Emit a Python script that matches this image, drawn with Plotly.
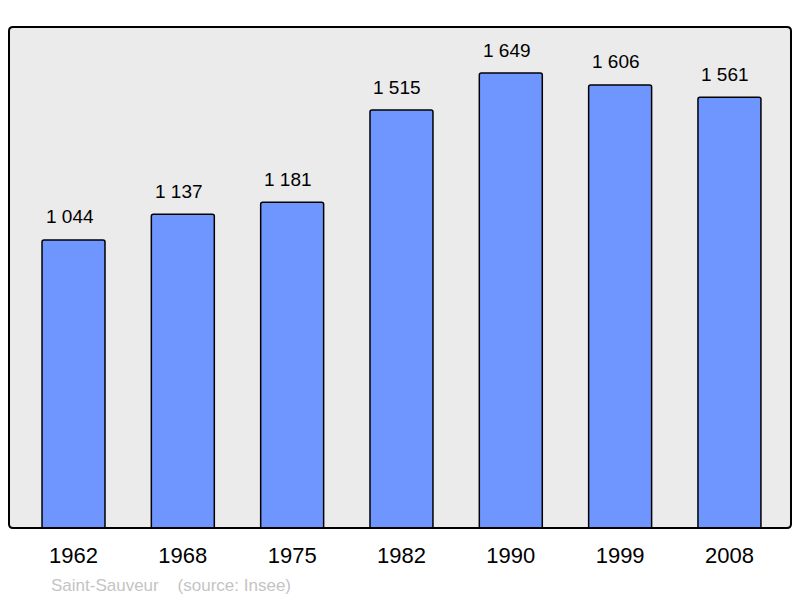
import plotly.graph_objects as go

years = ["1962", "1968", "1975", "1982", "1990", "1999", "2008"]
population = [1044, 1137, 1181, 1515, 1649, 1606, 1561]
value_labels = ["1 044", "1 137", "1 181", "1 515", "1 649", "1 606", "1 561"]
source_text = "Saint-Sauveur\u00a0\u00a0\u00a0\u00a0(source: Insee)"

fig = go.Figure()
fig.add_trace(go.Bar(
    x=list(range(len(years))), y=population, width=0.576,
    marker=dict(color="rgb(111,150,255)", line=dict(color="black", width=1.5), cornerradius=2),
    hoverinfo="skip",
))

for i, (v, lab) in enumerate(zip(population, value_labels)):
    fig.add_annotation(x=i, y=v, text=lab, showarrow=False, yanchor="middle",
                       yshift=23, xshift=-4,
                       font=dict(family="Liberation Sans, Arial", size=19, color="black"))

fig.add_annotation(x=(49 - 9) / 782, y=(528 - 585) / 501, xref="paper", yref="paper",
                   text=source_text, showarrow=False, xanchor="left", yanchor="middle",
                   font=dict(family="Liberation Sans, Arial", size=17, color="#c4c4c4"))

# rounded frame path in paper coordinates
rx, ry = 4 / 782, 4 / 501
frame = (f"M {rx},0 L {1-rx},0 Q 1,0 1,{ry} L 1,{1-ry} Q 1,1 {1-rx},1 "
         f"L {rx},1 Q 0,1 0,{1-ry} L 0,{ry} Q 0,0 {rx},0 Z")

fig.update_layout(
    width=800, height=598,
    margin=dict(l=9, r=9, t=27, b=70),
    paper_bgcolor="white", plot_bgcolor="white",
    showlegend=False,
    xaxis=dict(tickmode="array", tickvals=list(range(len(years))), ticktext=years,
               range=[-0.59, 6.563], showgrid=False, zeroline=False,
               ticks="", ticklabelstandoff=12,
               tickfont=dict(family="Liberation Sans, Arial", size=22, color="black"), fixedrange=True),
    yaxis=dict(range=[0, 1816], showgrid=False, zeroline=False, showticklabels=False, ticks="",
               fixedrange=True),
    shapes=[
        dict(type="path", xref="paper", yref="paper", path=frame,
             fillcolor="#ebebeb", line=dict(width=0), layer="below"),
        dict(type="path", xref="paper", yref="paper", path=frame,
             line=dict(color="black", width=2), layer="above"),
    ],
)

fig.write_html("out.html", config={"displayModeBar": False},
               post_script="document.body.style.margin='0';")
